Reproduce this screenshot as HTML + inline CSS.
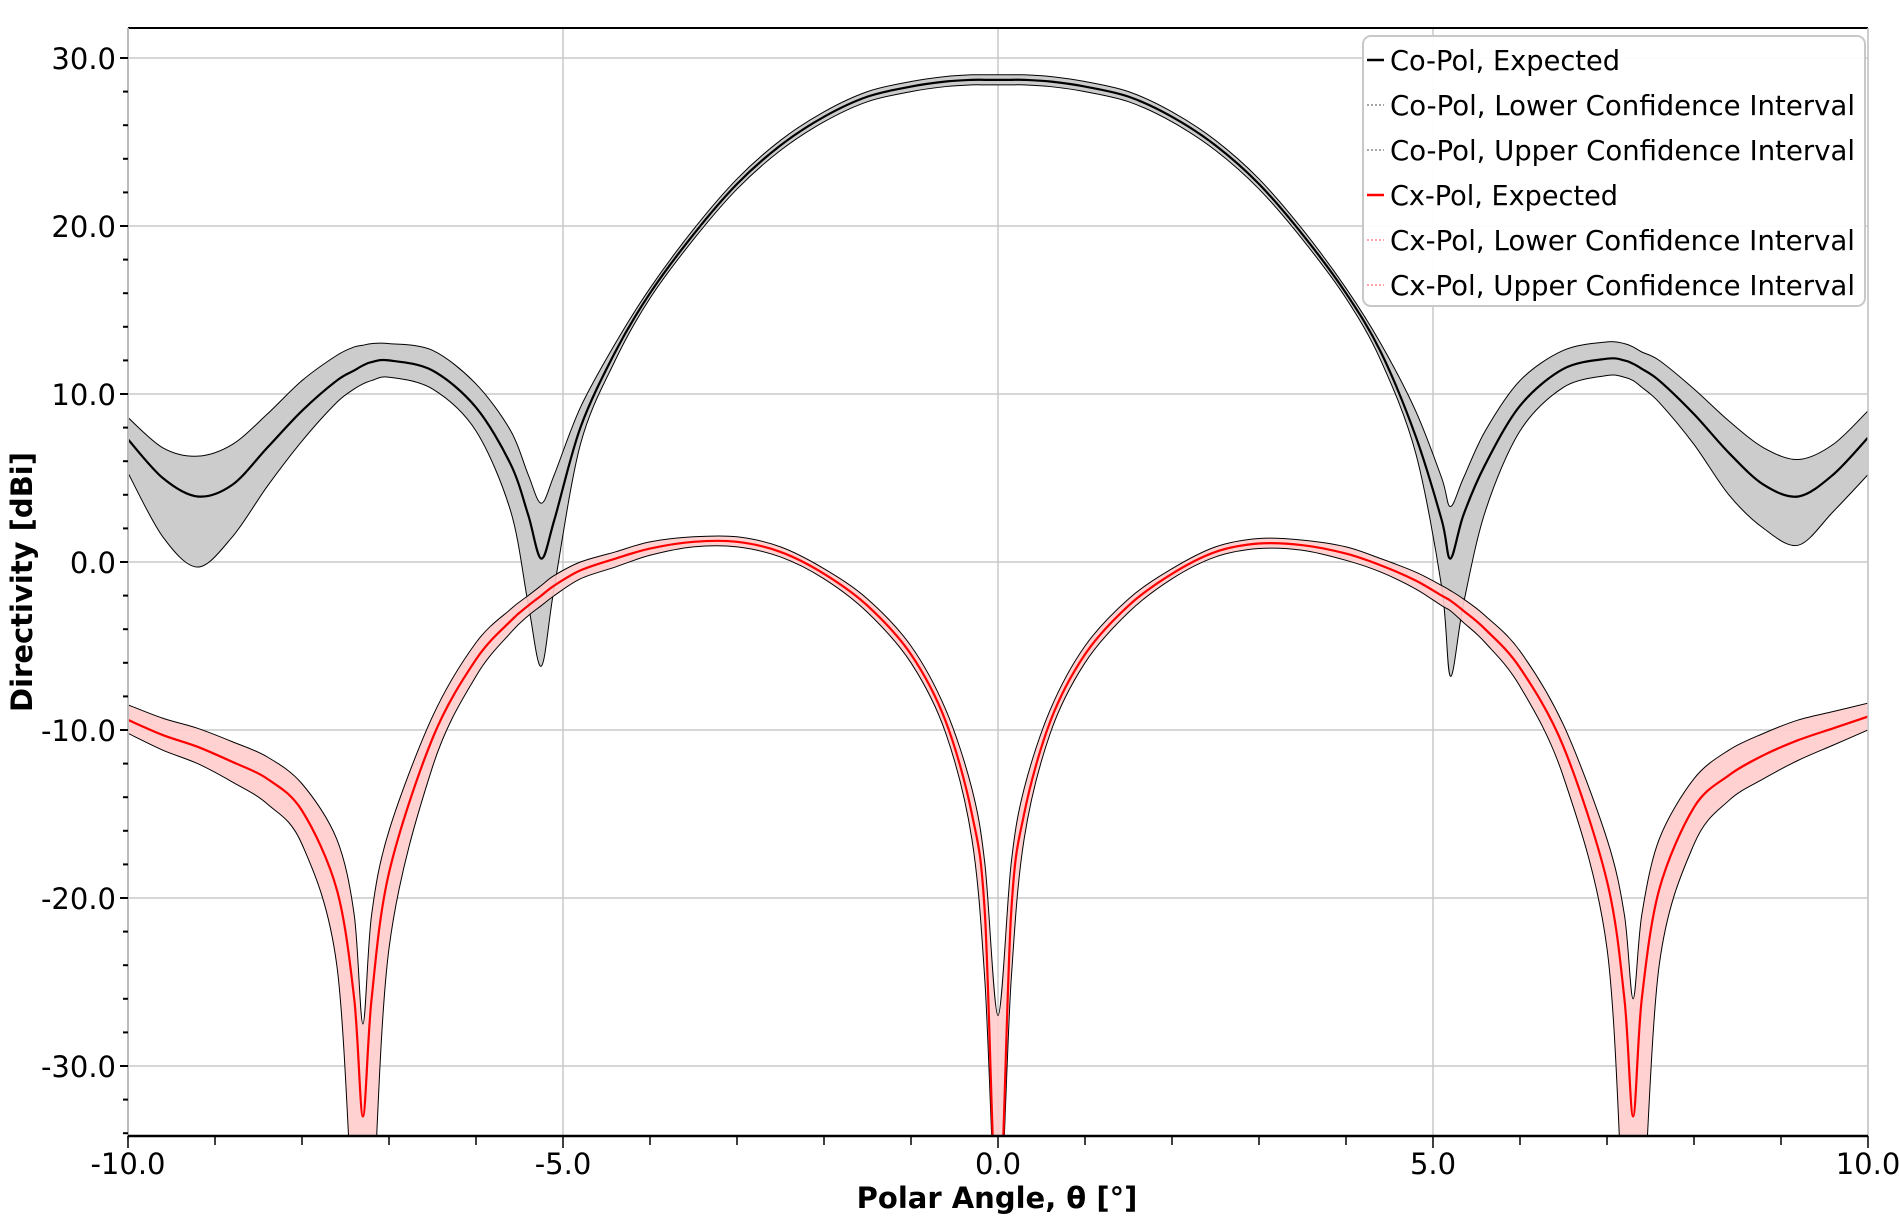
<!DOCTYPE html>
<html><head><meta charset="utf-8"><style>
html,body{margin:0;padding:0;background:#fff;}
svg{display:block;font-family:"DejaVu Sans","Liberation Sans",sans-serif;}
</style></head><body>
<svg id="chart" width="1899" height="1216" viewBox="0 0 1899 1216" xmlns="http://www.w3.org/2000/svg">
<defs><clipPath id="plotclip"><rect x="128" y="28" width="1740" height="1108"/></clipPath></defs>
<g id="grid"></g>
<g id="series" clip-path="url(#plotclip)"></g>
<g id="axes"></g>
<text transform="translate(32,582) rotate(-90)" text-anchor="middle" font-size="29" font-weight="bold" fill="#000">Directivity [dBi]</text>
<text x="997" y="1208" text-anchor="middle" font-size="29" font-weight="bold" fill="#000">Polar Angle, θ [°]</text>
<g id="legend">
<rect x="1363" y="36" width="502" height="270" rx="8" fill="#fff" fill-opacity="0.95" stroke="#c8c8c8" stroke-width="2"/>
</g>
</svg>
<script>
const theta=[-10,-9.6,-9.2,-8.8,-8.4,-8,-7.6,-7.4,-7.3,-7.2,-7,-6.5,-6,-5.6,-5.4,-5.25,-5.1,-4.8,-4.4,-4,-3.5,-3,-2.5,-2,-1.5,-1,-0.6,-0.3,-0.15,0,0.15,0.3,0.6,1,1.5,2,2.5,3,3.5,4,4.4,4.8,5.1,5.2,5.35,5.6,6,6.5,7,7.2,7.3,7.4,7.6,8,8.4,8.8,9.2,9.6,10];
const coExp=[7.3,5.0,3.9,4.6,6.8,9.0,10.8,11.4,11.7,11.9,12.0,11.4,9.2,5.8,2.8,0.2,2.5,8.0,12.5,16.0,19.5,22.5,24.8,26.5,27.7,28.3,28.6,28.7,28.7,28.7,28.7,28.7,28.6,28.3,27.7,26.5,24.8,22.5,19.5,16.0,12.5,7.5,2.5,0.2,2.8,5.8,9.3,11.5,12.1,12.0,11.8,11.5,10.8,8.8,6.5,4.6,3.9,5.2,7.4];
const coLo=[5.3,1.5,-0.3,1.5,4.5,7.2,9.5,10.3,10.6,10.8,11.0,10.3,7.8,3.0,-2.5,-6.2,-1.5,7.0,12.0,15.7,19.2,22.2,24.5,26.2,27.4,28.0,28.3,28.4,28.4,28.4,28.4,28.4,28.3,28.0,27.4,26.2,24.5,22.2,19.2,15.7,12.0,6.5,-1.5,-6.8,-2.5,3.0,7.8,10.4,11.1,11.0,10.8,10.4,9.5,7.0,4.0,2.0,1.0,3.0,5.2];
const coHi=[8.6,6.8,6.3,7.0,8.8,10.8,12.3,12.8,12.9,13.0,13.0,12.6,10.6,7.8,5.2,3.5,5.2,9.2,13.0,16.3,19.8,22.8,25.1,26.8,28.0,28.6,28.9,29.0,29.0,29.0,29.0,29.0,28.9,28.6,28.0,26.8,25.1,22.8,19.8,16.3,13.0,9.0,5.0,3.3,5.0,7.8,10.8,12.6,13.1,13.0,12.8,12.5,12.0,10.3,8.4,6.8,6.1,7.0,9.0];
const cxExp=[-9.4,-10.3,-11.0,-11.9,-12.9,-14.8,-19.5,-26,-33,-26,-18.5,-10.5,-5.8,-3.5,-2.6,-2.0,-1.4,-0.5,0.2,0.8,1.2,1.2,0.6,-0.7,-2.6,-5.5,-9.5,-15,-21,-40,-21,-15,-9.5,-5.5,-2.6,-0.7,0.6,1.1,1.0,0.5,-0.2,-1.1,-2.0,-2.3,-2.9,-4.0,-6.3,-11,-19,-26,-33,-26,-19.5,-14.6,-12.7,-11.5,-10.6,-9.9,-9.2];
const cxLo=[-10.2,-11.2,-12.0,-13.1,-14.4,-16.8,-24,-40,-40,-40,-23,-12.2,-6.8,-4.2,-3.2,-2.6,-2.0,-1.0,-0.3,0.4,0.9,0.9,0.3,-1.0,-3.0,-6.0,-10.2,-16.5,-25,-40,-25,-16.5,-10.2,-6.0,-3.0,-1.0,0.3,0.8,0.7,0.1,-0.6,-1.6,-2.6,-2.9,-3.6,-4.8,-7.4,-12.8,-23,-40,-40,-40,-24,-16.8,-14.2,-12.9,-11.8,-10.9,-10.0];
const cxHi=[-8.5,-9.3,-9.9,-10.7,-11.6,-13.2,-16.5,-21,-27.5,-21,-16,-9.2,-4.8,-2.8,-2.0,-1.4,-0.8,0.0,0.6,1.2,1.5,1.5,0.9,-0.4,-2.2,-5.0,-8.8,-13.5,-18,-27,-18,-13.5,-8.8,-5.0,-2.2,-0.4,0.9,1.4,1.3,0.9,0.2,-0.6,-1.4,-1.7,-2.2,-3.2,-5.3,-9.7,-16.5,-21,-26,-21,-16.5,-12.9,-11.2,-10.2,-9.4,-8.9,-8.4];
const xTicks=[-10,-5,0,5,10];
const xTickLabels=["-10.0","-5.0","0.0","5.0","10.0"];
const yTicks=[30,20,10,0,-10,-20,-30];
const yTickLabels=["30.0","20.0","10.0","0.0","-10.0","-20.0","-30.0"];
const legendLabels=["Co-Pol, Expected","Co-Pol, Lower Confidence Interval","Co-Pol, Upper Confidence Interval","Cx-Pol, Expected","Cx-Pol, Lower Confidence Interval","Cx-Pol, Upper Confidence Interval"];
const legendColors=["#000","#888","#888","#f00","#f88","#f88"];

const NS="http://www.w3.org/2000/svg";
const X0=128,X1=1868,XMIN=-10,XMAX=10;
const Y0=58,YV0=30,PPU=16.8;
function sx(v){return X0+(v-XMIN)/(XMAX-XMIN)*(X1-X0);}
function sy(v){return Y0+(YV0-v)*PPU;}
function mk(tag,attrs,parent){const e=document.createElementNS(NS,tag);for(const k in attrs)e.setAttribute(k,attrs[k]);parent.appendChild(e);return e;}
function smooth(xs,ys){
  const p=xs.map((x,i)=>[sx(x),sy(Math.max(ys[i],-45))]);
  let d="M"+p[0][0].toFixed(2)+","+p[0][1].toFixed(2);
  for(let i=0;i<p.length-1;i++){
    const a=p[Math.max(i-1,0)],b=p[i],c=p[i+1],e=p[Math.min(i+2,p.length-1)];
    const t=0.16;
    const c1=[b[0]+(c[0]-a[0])*t,b[1]+(c[1]-a[1])*t];
    const c2=[c[0]-(e[0]-b[0])*t,c[1]-(e[1]-b[1])*t];
    d+="C"+c1[0].toFixed(2)+","+c1[1].toFixed(2)+" "+c2[0].toFixed(2)+","+c2[1].toFixed(2)+" "+c[0].toFixed(2)+","+c[1].toFixed(2);
  }
  return d;
}
function bandPath(lo,hi){
  const up=smooth(theta,hi);
  const rt=theta.slice().reverse(), rl=lo.slice().reverse();
  const down=smooth(rt,rl).replace(/^M/,"L");
  return up+down+"Z";
}
const grid=document.getElementById('grid'),axes=document.getElementById('axes'),series=document.getElementById('series'),legend=document.getElementById('legend');
xTicks.forEach(v=>{const l=mk('line',{x1:sx(v),x2:sx(v),y1:28,y2:1136,stroke:'#c8c8c8','stroke-width':1.5},grid);

});
yTicks.forEach(v=>{const l=mk('line',{x1:X0,x2:X1,y1:sy(v),y2:sy(v),stroke:'#c8c8c8','stroke-width':1.5},grid);

});
const cb=mk('path',{d:bandPath(coLo,coHi),fill:'#cccccc',stroke:'#000','stroke-width':1},series);


const xb=mk('path',{d:bandPath(cxLo,cxHi),fill:'#ffcccc','fill-opacity':0.9,stroke:'#000','stroke-width':1},series);


const cl=mk('path',{d:smooth(theta,coExp),fill:'none',stroke:'#000','stroke-width':2.2},series);


const xl=mk('path',{d:smooth(theta,cxExp),fill:'none',stroke:'#f00','stroke-width':2.2},series);


mk('line',{x1:X0,x2:X1,y1:28,y2:28,stroke:'#000','stroke-width':2},axes);
mk('line',{x1:X1,x2:X1,y1:28,y2:1136,stroke:'#c8c8c8','stroke-width':1.5},axes);
const ya=mk('line',{x1:X0,x2:X0,y1:28,y2:1140,stroke:'#bbb','stroke-width':2},axes);


const xa=mk('line',{x1:X0,x2:X1,y1:1136,y2:1136,stroke:'#000','stroke-width':2.5},axes);


for(let v=-34;v<=30;v+=2){const major=(v%10===0);mk('line',{x1:X0-(major?8:5),x2:X0,y1:sy(v),y2:sy(v),stroke:'#000','stroke-width':2},axes);}
for(let v=-10;v<=10;v+=1){const major=(v%5===0);mk('line',{x1:sx(v),x2:sx(v),y1:1136,y2:1136+(major?12:9),stroke:'#000','stroke-width':1.5},axes);}
yTicks.forEach((v,i)=>{const t=mk('text',{x:116,y:sy(v)+11,'text-anchor':'end','font-size':29,fill:'#000'},axes);t.textContent=yTickLabels[i];

});
xTicks.forEach((v,i)=>{const t=mk('text',{x:sx(v),y:1174,'text-anchor':'middle','font-size':29,fill:'#000'},axes);t.textContent=xTickLabels[i];

});
legendLabels.forEach((s,i)=>{const y=60+i*45;
const dashed=(i%3!==0);
const ln=mk('line',{x1:1367,x2:1384,y1:y,y2:y,stroke:legendColors[i],'stroke-width':dashed?1.5:2.5},legend);
if(dashed)ln.setAttribute('stroke-dasharray','2,2');


const t=mk('text',{x:1390,y:y+10,'font-size':28,fill:'#000',textLength:s.length>20?465:(s.startsWith('Co')?230:228),lengthAdjust:'spacingAndGlyphs'},legend);
t.textContent=s;

});
</script>
</body></html>
